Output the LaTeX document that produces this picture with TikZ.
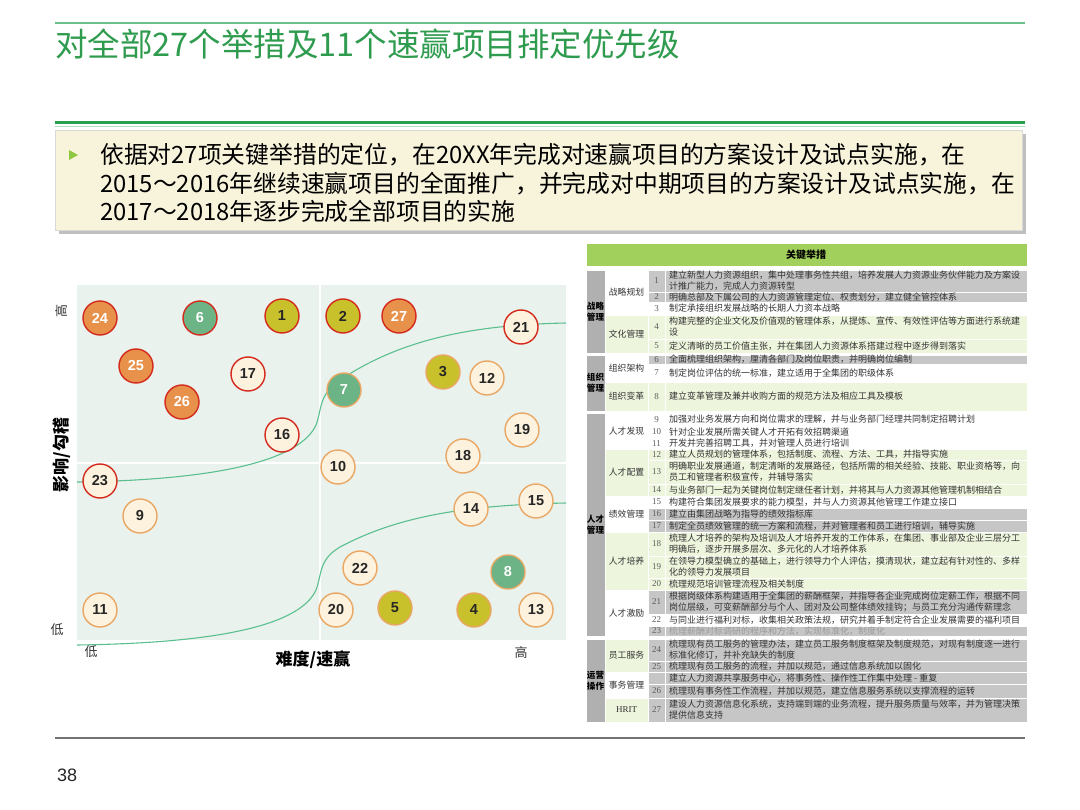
\documentclass[tikz,border=0pt]{standalone}
\usepackage{fontspec}
\setmainfont{Noto Sans CJK SC}
\newfontfamily\numfont{Liberation Sans}
\newfontfamily\romanfont{Liberation Serif}

\definecolor{titlegreen}{HTML}{2E9B4E}
\definecolor{linegreen}{HTML}{6CC08A}
\definecolor{boldgreen}{HTML}{28A04B}
\definecolor{introcream}{HTML}{F8F4DC}
\definecolor{bulletgreen}{HTML}{8DC63F}
\definecolor{chartbg}{HTML}{E9F2EC}
\definecolor{curvegreen}{HTML}{5BBF8F}
\definecolor{redline}{HTML}{D42A1E}
\definecolor{orangeline}{HTML}{E9A766}
\definecolor{bubbleorange}{HTML}{E8914A}
\definecolor{bubblegreen}{HTML}{6CB386}
\definecolor{bubbleyellow}{HTML}{C9C12C}
\definecolor{bubblecream}{HTML}{FCF2DE}
\definecolor{headgreen}{HTML}{A2D05C}
\definecolor{catgray}{HTML}{B0B0B0}
\definecolor{rowgray}{HTML}{C6C6C6}
\definecolor{rowgreen}{HTML}{EEF5DD}
\definecolor{txtdark}{HTML}{333333}
\definecolor{txtfaded}{HTML}{9A9A9A}

\tikzset{
  bubble/.style={circle, minimum size=34pt, inner sep=0pt, line width=1.4pt,
    font=\numfont\bfseries\fontsize{14.5}{14.5}\selectfont},
  orred/.style={bubble, draw=redline, fill=bubbleorange, text=white},
  grred/.style={bubble, draw=redline, fill=bubblegreen, text=white},
  gror/.style={bubble, draw=orangeline, fill=bubblegreen, text=white},
  yelred/.style={bubble, draw=redline, fill=bubbleyellow, text=black!85},
  yelor/.style={bubble, draw=orangeline, fill=bubbleyellow, text=black!85},
  crred/.style={bubble, draw=redline, fill=bubblecream, text=black!85},
  cror/.style={bubble, draw=orangeline, fill=bubblecream, text=black!85},
  cellbox/.style={draw=white, line width=0.8pt},
  numtxt/.style={inner sep=0pt, text=txtdark!80, font=\romanfont\fontsize{9}{9}\selectfont},
  rowtxt/.style={anchor=west, inner sep=0pt, align=left, font=\fontsize{9}{11}\selectfont},
  subtxt/.style={inner sep=0pt, text=txtdark, font=\fontsize{8.8}{10}\selectfont},
  cattxt/.style={inner sep=0pt, align=center, text=black, font=\bfseries\fontsize{8.6}{11}\selectfont},
  axistxt/.style={inner sep=0pt, text=txtdark, font=\fontsize{13}{13}\selectfont}
}

\begin{document}
\begin{tikzpicture}[x=1pt,y=-1pt]
\useasboundingbox (0,0) rectangle (1080,810);

% Titel
\draw[linegreen, line width=1.5pt] (55,23) -- (1025,23);
\node[anchor=base west, inner sep=0pt, text=titlegreen, font=\fontsize{32.5}{32.5}\selectfont] (title) at (55,57) {对全部27个举措及11个速赢项目排定优先级};
\draw[boldgreen, line width=3pt] (55,123) -- (1025,123);
\draw[linegreen!50, line width=1pt] (55,126.5) -- (1025,126.5);

% Kasten mit Text
\fill[black!25] (59,134) rectangle (1026,234);
\filldraw[fill=introcream, draw=black!15] (55,130) rectangle (1022,230);
\fill[bulletgreen] (69,150) -- (78,155) -- (69,160) -- cycle;
\node[anchor=base west, inner sep=0pt, font=\fontsize{23.8}{23.8}\selectfont] (intro1) at (100,164) {依据对27项关键举措的定位，在20XX年完成对速赢项目的方案设计及试点实施，在};
\node[anchor=base west, inner sep=0pt, font=\fontsize{23.8}{23.8}\selectfont] (intro2) at (100,192.5) {2015～2016年继续速赢项目的全面推广，并完成对中期项目的方案设计及试点实施，在};
\node[anchor=base west, inner sep=0pt, font=\fontsize{23.8}{23.8}\selectfont] (intro3) at (100,221) {2017～2018年逐步完成全部项目的实施};

% Matrix
\fill[chartbg] (77,285) rectangle (566,640);
\draw[white, line width=1.5pt] (320,285) -- (320,640);
\draw[white, line width=1.5pt] (77,463) -- (566,463);

% Kurven
\draw[curvegreen, line width=1.1pt] (77,482) .. controls (220,480) and (300,460) .. (316,425)
  .. controls (322,410) and (318,395) .. (340,380) .. controls (400,340) and (470,325) .. (566,323);
\draw[curvegreen, line width=1.1pt] (77,645) .. controls (220,643) and (300,625) .. (316,590)
  .. controls (322,575) and (318,560) .. (340,547) .. controls (400,515) and (470,505) .. (566,503);

% Kreise
\foreach \n/\x/\y/\sty in {24/100/318/orred, 6/200/318/grred, 1/282/316/yelred, 2/343/316/yelred,
  27/399/316/orred, 21/521/327/crred, 25/136/366/orred, 17/248/374/crred, 3/443/372/yelor,
  12/487/378/cror, 7/344/390/gror, 26/182/402/orred, 16/282/435/crred, 19/522/430/cror,
  18/463/456/cror, 10/338/467/cror, 23/100/481/crred, 15/536/501/cror, 14/471/509/cror,
  9/140/516/cror, 22/360/568/cror, 8/508/572/gror, 11/100/610/cror, 20/336/610/cror,
  5/395/608/yelor, 4/474/610/yelor, 13/536/610/cror} {
  \node[\sty] (c\n) at (\x,\y) {\n};
}

% Achsen
\node[axistxt, rotate=90] (yhigh) at (62,311) {高};
\node[axistxt] (ylow) at (57,630) {低};
\node[inner sep=0pt, rotate=90, font=\bfseries\fontsize{17}{17}\selectfont] (ylabel) at (62,455) {影响/勾稽};
\node[axistxt] (xlow) at (91,652) {低};
\node[axistxt] (xhigh) at (521,653) {高};
\node[inner sep=0pt, font=\bfseries\fontsize{17}{17}\selectfont] (xlabel) at (313,660) {难度/速赢};

% Tabelle: Kopf
\filldraw[cellbox, fill=headgreen] (586,243) rectangle (1027,266);
\node[inner sep=0pt, font=\bfseries\fontsize{10}{10}\selectfont] (head) at (806,254.5) {关键举措};

% Tabelle: Kategorien
\foreach \k/\lbl/\ya/\yb in {1/{战略\\管理}/270/353, 2/{组织\\管理}/355/411,
  3/{人才\\管理}/413/636, 4/{运营\\操作}/639/722} {
  \filldraw[cellbox, fill=catgray] (586,\ya) rectangle (605,\yb);
  \node[cattxt] (cat\k) at (595.5,{(\ya+\yb)/2}) {\lbl};
}

% Tabelle: Unterkategorien
\foreach \k/\lbl/\ya/\yb/\fc in {1/战略规划/270/315/white, 2/文化管理/315/353/rowgreen,
  3/组织架构/355/382/white, 4/组织变革/382/411/rowgreen, 5/人才发现/413/449/white,
  6/人才配置/449/496/rowgreen, 7/绩效管理/496/532/white, 8/人才培养/532/590/rowgreen,
  9/人才激励/590/636/white, 10/员工服务/639/672/rowgreen, 11/事务管理/672/698/white} {
  \filldraw[cellbox, fill=\fc] (605,\ya) rectangle (648,\yb);
  \node[subtxt] (sub\k) at (626.5,{(\ya+\yb)/2}) {\lbl};
}
\filldraw[cellbox, fill=rowgreen] (605,698) rectangle (648,722);
\node[subtxt, font=\romanfont\fontsize{9}{9}\selectfont] (sub12) at (626.5,710) {HRIT};

% Tabelle: Zeilen
\foreach \n/\ya/\yb/\fc/\tc/\txt in {
  1/270/292/rowgray/txtdark/{建立新型人力资源组织，集中处理事务性共组，培养发展人力资源业务伙伴能力及方案设\\计推广能力，完成人力资源转型},
  2/292/302/rowgray/txtdark/{明确总部及下属公司的人力资源管理定位、权责划分，建立健全管控体系},
  3/302/315/white/txtdark/{制定承接组织发展战略的长期人力资本战略},
  4/315/339/rowgreen/txtdark/{构建完整的企业文化及价值观的管理体系，从提炼、宣传、有效性评估等方面进行系统建\\设},
  5/339/353/rowgreen/txtdark/{定义清晰的员工价值主张，并在集团人力资源体系搭建过程中逐步得到落实},
  6/355/364/rowgray/txtdark/{全面梳理组织架构，厘清各部门及岗位职责，并明确岗位编制},
  7/364/382/white/txtdark/{制定岗位评估的统一标准，建立适用于全集团的职级体系},
  8/382/411/rowgreen/txtdark/{建立变革管理及兼并收购方面的规范方法及相应工具及模板},
  9/413/426/white/txtdark/{加强对业务发展方向和岗位需求的理解，并与业务部门经理共同制定招聘计划},
  10/426/438/white/txtdark/{针对企业发展所需关键人才开拓有效招聘渠道},
  11/438/449/white/txtdark/{开发并完善招聘工具，并对管理人员进行培训},
  12/449/460/rowgreen/txtdark/{建立人员规划的管理体系，包括制度、流程、方法、工具，并指导实施},
  13/460/484/rowgreen/txtdark/{明确职业发展通道，制定清晰的发展路径，包括所需的相关经验、技能、职业资格等，向\\员工和管理者积极宣传，并辅导落实},
  14/484/496/rowgreen/txtdark/{与业务部门一起为关键岗位制定继任者计划，并将其与人力资源其他管理机制相结合},
  15/496/508/white/txtdark/{构建符合集团发展要求的能力模型，并与人力资源其他管理工作建立接口},
  16/508/520/rowgray/txtdark/{建立由集团战略为指导的绩效指标库},
  17/520/532/rowgray/txtdark/{制定全员绩效管理的统一方案和流程，并对管理者和员工进行培训，辅导实施},
  18/532/556/rowgreen/txtdark/{梳理人才培养的架构及培训及人才培养开发的工作体系，在集团、事业部及企业三层分工\\明确后，逐步开展多层次、多元化的人才培养体系},
  19/556/578/rowgreen/txtdark/{在领导力模型确立的基础上，进行领导力个人评估，摸清现状，建立起有针对性的、多样\\化的领导力发展项目},
  20/578/590/rowgreen/txtdark/{梳理规范培训管理流程及相关制度},
  21/590/614/rowgray/txtdark/{根据岗级体系构建适用于全集团的薪酬框架，并指导各企业完成岗位定薪工作，根据不同\\岗位层级，可变薪酬部分与个人、团对及公司整体绩效挂钩；与员工充分沟通传薪理念},
  22/614/626/white/txtdark/{与同业进行福利对标，收集相关政策法规，研究并着手制定符合企业发展需要的福利项目},
  23/626/636/rowgray/txtfaded/{梳理薪酬对标调研的程序和方法，实现标准化，制度化},
  24/639/661/rowgray/txtdark/{梳理现有员工服务的管理办法，建立员工服务制度框架及制度规范，对现有制度逐一进行\\标准化修订，并补充缺失的制度},
  25/661/672/rowgray/txtdark/{梳理现有员工服务的流程，并加以规范，通过信息系统加以固化},
  26/684/698/rowgray/txtdark/{梳理现有事务性工作流程，并加以规范，建立信息服务系统以支撑流程的运转},
  27/698/722/rowgray/txtdark/{建设人力资源信息化系统，支持端到端的业务流程，提升服务质量与效率，并为管理决策\\提供信息支持}} {
  \filldraw[cellbox, fill=\fc] (648,\ya) rectangle (665,\yb);
  \filldraw[cellbox, fill=\fc] (665,\ya) rectangle (1027,\yb);
  \node[numtxt] (num\n) at (656.5,{(\ya+\yb)/2}) {\n};
  \node[rowtxt, text=\tc] (row\n) at (669,{(\ya+\yb)/2}) {\txt};
}
% Zeile ohne Nummer
\filldraw[cellbox, fill=rowgray] (648,672) rectangle (665,684);
\filldraw[cellbox, fill=rowgray] (665,672) rectangle (1027,684);
\node[rowtxt, text=txtdark] (rowsc) at (669,678) {建立人力资源共享服务中心，将事务性、操作性工作集中处理 - 重复};

% Fusszeile
\draw[black!55, line width=1.2pt] (55,738) -- (1025,738);
\node[anchor=west, inner sep=0pt, text=black!85, font=\numfont\fontsize{18}{18}\selectfont] (page) at (57,775) {38};

\end{tikzpicture}
\end{document}
